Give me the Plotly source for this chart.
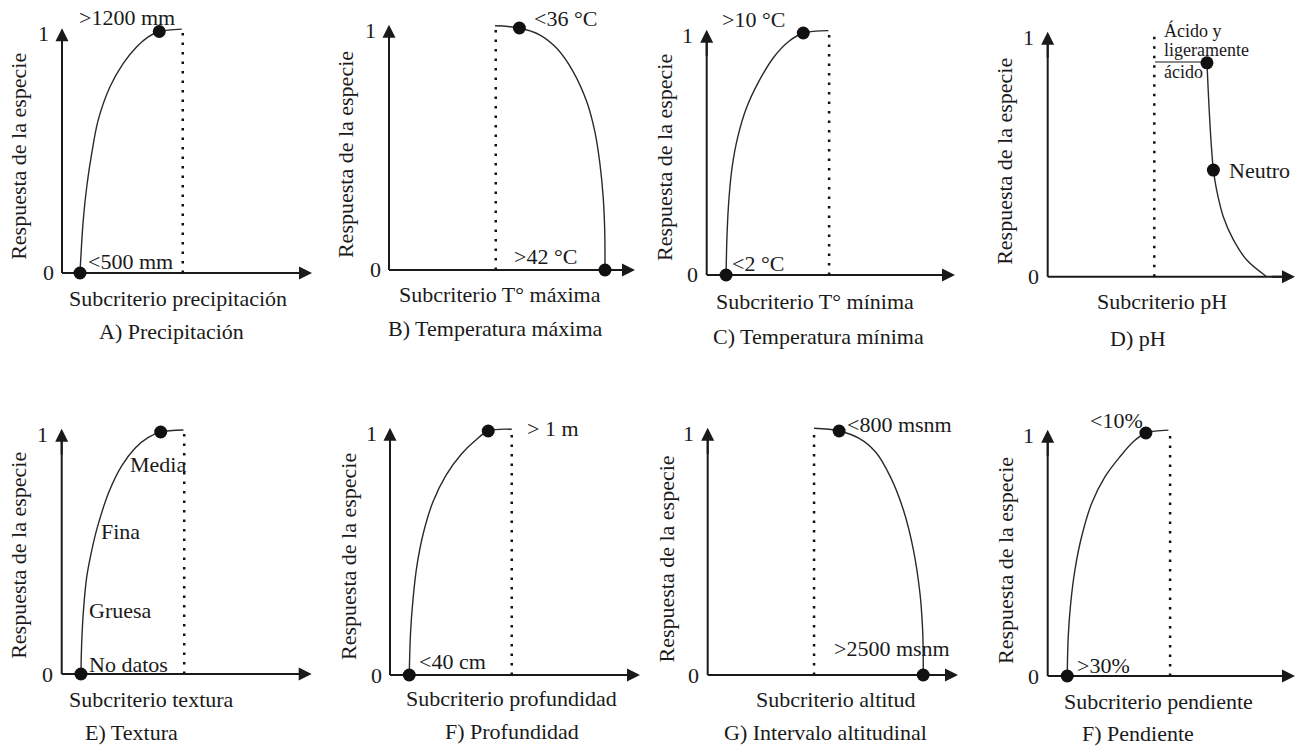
import plotly.graph_objects as go

W, H = 1299, 747

# ---------------- data (subcriterion position 0..1, species response 0..1) ----------------
prec_x = [0.072, 0.085, 0.099, 0.119, 0.145, 0.192, 0.245, 0.299, 0.345, 0.389, 0.479]
prec_y = [0.0, 0.219, 0.357, 0.496, 0.634, 0.771, 0.868, 0.937, 0.978, 1.0, 1.01]
prec_dot_x = [0.072, 0.389]
prec_dot_y = [0.0, 1.0]
prec_limit = 0.483

tmax_x = [0.431, 0.530, 0.614, 0.682, 0.749, 0.804, 0.837, 0.858, 0.871, 0.877, 0.878]
tmax_y = [1.009, 1.0, 0.971, 0.916, 0.819, 0.695, 0.571, 0.434, 0.296, 0.158, 0.0]
tmax_dot_x = [0.530, 0.878]
tmax_dot_y = [1.0, 0.0]
tmax_limit = 0.434

tmin_x = [0.078, 0.082, 0.090, 0.103, 0.125, 0.160, 0.210, 0.270, 0.330, 0.389, 0.490]
tmin_y = [0.0, 0.170, 0.320, 0.450, 0.570, 0.690, 0.800, 0.900, 0.965, 1.0, 1.01]
tmin_dot_x = [0.078, 0.389]
tmin_dot_y = [0.0, 1.0]
tmin_limit = 0.493

ph_x = [0.644, 0.649, 0.656, 0.663, 0.670, 0.683, 0.710, 0.751, 0.805, 0.886]
ph_y = [0.885, 0.773, 0.635, 0.524, 0.441, 0.359, 0.248, 0.152, 0.069, 0.0]
ph_dot_x = [0.644, 0.670]
ph_dot_y = [0.885, 0.441]
ph_limit = 0.431
ph_acid_x = [0.434, 0.637]
ph_acid_y = [0.888, 0.888]

tex_x = [0.077, 0.080, 0.087, 0.100, 0.120, 0.145, 0.190, 0.240, 0.295, 0.345, 0.396, 0.487]
tex_y = [0.0, 0.130, 0.262, 0.400, 0.510, 0.615, 0.755, 0.860, 0.935, 0.977, 1.0, 1.008]
tex_dot_x = [0.077, 0.396]
tex_dot_y = [0.0, 1.0]
tex_limit = 0.490

prof_x = [0.077, 0.082, 0.092, 0.108, 0.133, 0.172, 0.225, 0.285, 0.340, 0.393, 0.487]
prof_y = [0.0, 0.170, 0.310, 0.450, 0.580, 0.710, 0.820, 0.905, 0.960, 1.0, 1.007]
prof_dot_x = [0.077, 0.393]
prof_dot_y = [0.0, 1.0]
prof_limit = 0.487

alt_x = [0.425, 0.525, 0.605, 0.670, 0.730, 0.782, 0.822, 0.848, 0.858, 0.861, 0.861]
alt_y = [1.011, 1.0, 0.970, 0.915, 0.812, 0.676, 0.512, 0.335, 0.200, 0.090, 0.0]
alt_dot_x = [0.525, 0.861]
alt_dot_y = [1.0, 0.0]
alt_limit = 0.425

pend_x = [0.079, 0.083, 0.093, 0.110, 0.137, 0.178, 0.232, 0.292, 0.346, 0.397, 0.488]
pend_y = [0.0, 0.162, 0.299, 0.436, 0.573, 0.711, 0.820, 0.902, 0.964, 1.0, 1.012]
pend_dot_x = [0.079, 0.397]
pend_dot_y = [0.0, 1.0]
pend_limit = 0.495

y_title = "Respuesta de la especie"
x_titles = ["Subcriterio precipitación", "Subcriterio T° máxima", "Subcriterio T° mínima",
            "Subcriterio pH", "Subcriterio textura", "Subcriterio profundidad",
            "Subcriterio altitud", "Subcriterio pendiente"]
captions = ["A) Precipitación", "B) Temperatura máxima", "C) Temperatura mínima", "D) pH",
            "E) Textura", "F) Profundidad", "G) Intervalo altitudinal", "F) Pendiente"]

# ---------------- layout of each panel (pixel geometry + label placement) ----------------
panels = [
    dict(geom=(62, 273, 250, 241.5), cx=prec_x, cy=prec_y, dx=prec_dot_x, dy=prec_dot_y,
         lim=prec_limit, limtop=1.01,
         labels=[("&gt;1200 mm", 0.059, 1.056), ("&lt;500 mm", 0.096, 0.047)],
         xt=(0.465, -0.105), cap=(0.439, -0.243), yt=(-0.175, 0.482)),
    dict(geom=(389, 270, 246, 242), cx=tmax_x, cy=tmax_y, dx=tmax_dot_x, dy=tmax_dot_y,
         lim=tmax_limit, limtop=1.012,
         labels=[("&lt;36 °C", 0.580, 1.038), ("&gt;42 °C", 0.499, 0.055)],
         xt=(0.451, -0.103), cap=(0.431, -0.241), yt=(-0.179, 0.479)),
    dict(geom=(706.7, 275, 248.3, 242), cx=tmin_x, cy=tmin_y, dx=tmin_dot_x, dy=tmin_dot_y,
         lim=tmin_limit, limtop=1.01,
         labels=[("&gt;10 °C", 0.054, 1.054), ("&lt;2 °C", 0.094, 0.048)],
         xt=(0.436, -0.110), cap=(0.449, -0.255), yt=(-0.168, 0.488)),
    dict(geom=(1047.7, 276.7, 247.3, 241.7), cx=ph_x, cy=ph_y, dx=ph_dot_x, dy=ph_dot_y,
         lim=ph_limit, limtop=1.007,
         labels=[("Neutro", 0.724, 0.441)],
         small=[("Ácido y", 0.461, 1.02), ("ligeramente", 0.461, 0.938), ("ácido", 0.461, 0.848)],
         xt=(0.461, -0.103), cap=(0.366, -0.255), yt=(-0.173, 0.479)),
    dict(geom=(61.7, 674, 250, 242), cx=tex_x, cy=tex_y, dx=tex_dot_x, dy=tex_dot_y,
         lim=tex_limit, limtop=1.008,
         labels=[("Media", 0.266, 0.864), ("Fina", 0.150, 0.588), ("Gruesa", 0.102, 0.262),
                 ("No datos", 0.102, 0.041)],
         xt=(0.360, -0.107), cap=(0.280, -0.242), yt=(-0.174, 0.489)),
    dict(geom=(390, 675, 250, 244), cx=prof_x, cy=prof_y, dx=prof_dot_x, dy=prof_dot_y,
         lim=prof_limit, limtop=1.007,
         labels=[("&gt; 1 m", 0.540, 1.012), ("&lt;40 cm", 0.108, 0.055)],
         xt=(0.487, -0.095), cap=(0.487, -0.232), yt=(-0.167, 0.485)),
    dict(geom=(707.7, 675, 250.3, 244), cx=alt_x, cy=alt_y, dx=alt_dot_x, dy=alt_dot_y,
         lim=alt_limit, limtop=1.011,
         labels=[("&lt;800 msnm", 0.549, 1.025), ("&gt;2500 msnm", 0.496, 0.109)],
         xt=(0.509, -0.102), cap=(0.469, -0.236), yt=(-0.165, 0.475)),
    dict(geom=(1047.7, 676, 247.3, 243), cx=pend_x, cy=pend_y, dx=pend_dot_x, dy=pend_dot_y,
         lim=pend_limit, limtop=1.009,
         labels=[("&lt;10%", 0.164, 1.053), ("&gt;30%", 0.111, 0.045)],
         xt=(0.447, -0.106), cap=(0.366, -0.238), yt=(-0.173, 0.477)),
]

XR = [-0.22, 1.01]
YR = [-0.28, 1.1]
FONT = "Liberation Serif, Times New Roman, serif"
TXT = "#1a1a1a"
FS = 22

fig = go.Figure()
layout = dict(width=W, height=H, margin=dict(l=0, r=0, t=0, b=0),
              paper_bgcolor="white", plot_bgcolor="rgba(0,0,0,0)", showlegend=False)
annotations = []

def clamp(v):
    return max(0.0, min(1.0, v))

for i, p in enumerate(panels):
    n = "" if i == 0 else str(i + 1)
    xr, yr = "x" + n, "y" + n
    ox, oy, sx, sy = p["geom"]
    xd = [clamp((ox + XR[0] * sx) / W), clamp((ox + XR[1] * sx) / W)]
    yd = [clamp(1 - (oy - YR[0] * sy) / H), clamp(1 - (oy - YR[1] * sy) / H)]
    layout["xaxis" + n] = dict(domain=xd, range=XR, visible=False, anchor=yr, fixedrange=True)
    layout["yaxis" + n] = dict(domain=yd, range=YR, visible=False, anchor=xr, fixedrange=True)

    # axes lines
    fig.add_trace(go.Scatter(x=[0, 0.97], y=[0, 0], mode="lines", xaxis=xr, yaxis=yr,
                             line=dict(color=TXT, width=2), hoverinfo="skip"))
    fig.add_trace(go.Scatter(x=[0, 0], y=[0, 0.98], mode="lines", xaxis=xr, yaxis=yr,
                             line=dict(color=TXT, width=2), hoverinfo="skip"))
    # arrow heads
    annotations.append(dict(x=1.0, y=0, ax=0.9, ay=0, xref=xr, yref=yr, axref=xr, ayref=yr,
                            text="", showarrow=True, arrowhead=2, arrowsize=1.3,
                            arrowwidth=2, arrowcolor=TXT, standoff=0))
    annotations.append(dict(x=0, y=1.013, ax=0, ay=0.9, xref=xr, yref=yr, axref=xr, ayref=yr,
                            text="", showarrow=True, arrowhead=2, arrowsize=1.3,
                            arrowwidth=2, arrowcolor=TXT, standoff=0))
    # dotted limit
    fig.add_trace(go.Scatter(x=[p["lim"], p["lim"]], y=[0, p["limtop"]], mode="lines",
                             xaxis=xr, yaxis=yr, hoverinfo="skip",
                             line=dict(color="#111111", width=2.5, dash="2.5px,7px")))
    if i == 3:
        fig.add_trace(go.Scatter(x=ph_acid_x, y=ph_acid_y, mode="lines", xaxis=xr, yaxis=yr,
                                 hoverinfo="skip", line=dict(color="#8a8a8a", width=2)))
    # response curve
    fig.add_trace(go.Scatter(x=p["cx"], y=p["cy"], mode="lines", xaxis=xr, yaxis=yr,
                             line=dict(color="#2a2a2a", width=1.4, shape="spline", smoothing=1.0),
                             hoverinfo="skip"))
    # key points
    fig.add_trace(go.Scatter(x=p["dx"], y=p["dy"], mode="markers", xaxis=xr, yaxis=yr,
                             marker=dict(color="#111111", size=13), hoverinfo="skip",
                             cliponaxis=False))

    # tick labels 0 / 1
    annotations.append(dict(x=-19 / sx, y=0.99, xref=xr, yref=yr, text="1", showarrow=False,
                            font=dict(family=FONT, size=FS, color=TXT)))
    annotations.append(dict(x=-14 / sx, y=0.0, xref=xr, yref=yr, text="0", showarrow=False,
                            font=dict(family=FONT, size=FS, color=TXT)))
    # point labels
    for t, lx, ly in p["labels"]:
        annotations.append(dict(x=lx, y=ly, xref=xr, yref=yr, text=t, showarrow=False,
                                xanchor="left", yanchor="middle",
                                font=dict(family=FONT, size=FS, color=TXT)))
    for t, lx, ly in p.get("small", []):
        annotations.append(dict(x=lx, y=ly, xref=xr, yref=yr, text=t, showarrow=False,
                                xanchor="left", yanchor="middle",
                                font=dict(family=FONT, size=18, color=TXT)))
    # titles
    annotations.append(dict(x=p["xt"][0], y=p["xt"][1], xref=xr, yref=yr, text=x_titles[i],
                            showarrow=False, xanchor="center", yanchor="middle",
                            font=dict(family=FONT, size=FS, color=TXT)))
    annotations.append(dict(x=p["cap"][0], y=p["cap"][1], xref=xr, yref=yr, text=captions[i],
                            showarrow=False, xanchor="center", yanchor="middle",
                            font=dict(family=FONT, size=FS, color=TXT)))
    annotations.append(dict(x=p["yt"][0], y=p["yt"][1], xref=xr, yref=yr, text=y_title,
                            showarrow=False, textangle=-90, xanchor="center", yanchor="middle",
                            font=dict(family=FONT, size=FS, color=TXT)))

layout["annotations"] = annotations
fig.update_layout(**layout)
fig.write_html("out.html", config={"displayModeBar": False},
               post_script="document.body.style.margin='0';document.body.style.overflow='hidden';")
